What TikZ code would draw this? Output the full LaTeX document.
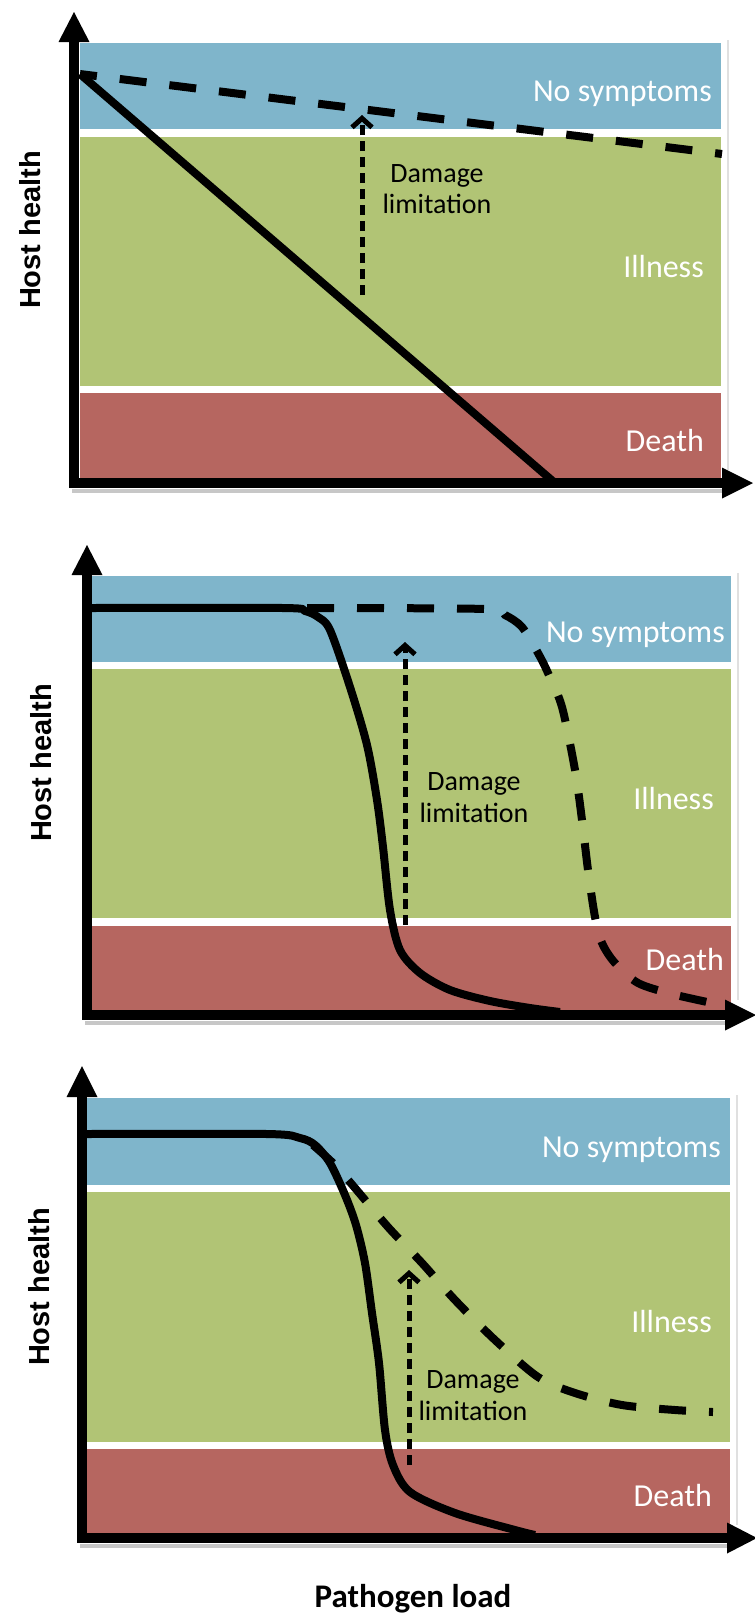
\documentclass[tikz,border=0pt]{standalone}
\usepackage{fontspec}
\setmainfont{Carlito}
\newfontfamily\hfont{Liberation Sans}
\usetikzlibrary{arrows.meta}
\definecolor{bandblue}{RGB}{127,181,203}
\definecolor{bandgreen}{RGB}{177,196,117}
\definecolor{bandred}{RGB}{182,102,96}
\begin{document}
\begin{tikzpicture}[x=1pt,y=-1pt,
  axisline/.style={line width=10pt, line join=miter},
  axishead/.style={fill=black},
  axisshadow/.style={black!22, line width=4pt},
  edgeshadow/.style={black!12, line width=2.5pt},
  solidcurve/.style={line width=8pt, line join=round},
  dashcurve/.style={line width=8pt, dash pattern=on 27pt off 23pt},
  dmgarrow/.style={line width=5pt, dash pattern=on 10pt off 6pt, -{Straight Barb[length=9pt,width=20pt]}},
  zonelab/.style={text=white, font=\fontsize{32}{38}\selectfont, inner sep=0pt, anchor=base east},
  dmglab/.style={font=\fontsize{28}{32}\selectfont, inner sep=0pt, anchor=base},
  ylab/.style={font=\hfont\bfseries\fontsize{29}{34}\selectfont, inner sep=0pt, rotate=90, anchor=base},
  xlab/.style={font=\bfseries\fontsize{33}{38}\selectfont, inner sep=0pt, anchor=base}
]
\useasboundingbox (0,0) rectangle (755,1615);

% ================= Panel 1 =================
\draw[edgeshadow] (728,40) -- (728,470);
\fill[bandblue]  (80,43)  rectangle (721,129);
\fill[bandgreen] (80,137) rectangle (721,386);
\fill[bandred]   (80,393) rectangle (721,483);
\node[zonelab] (ns1) at (712,101) {No symptoms};
\node[zonelab] (il1) at (704,277) {Illness};
\node[zonelab] (de1) at (704,451) {Death};
\coordinate (s1a) at (80,74);
\coordinate (s1b) at (555,483);
\coordinate (d1b) at (722,154);
\draw[solidcurve] (s1a) -- (s1b);
\draw[dashcurve, dash phase=10pt] (s1a) -- (d1b);
\coordinate (a1s) at (362,295);
\coordinate (a1e) at (362,115);
\draw[dmgarrow] (a1s) -- (a1e);
\node[dmglab] (dm1) at (437,182) {Damage};
\node[dmglab] (li1) at (437,213) {limitation};
\coordinate (o1) at (74,483);
\draw[axisshadow] (72,491) -- (722,491);
\draw[axisline] (74,41) -- (o1) -- (723,483);
\fill[axishead] (74,12) -- (58.5,42) -- (89.5,42) -- cycle;
\fill[axishead] (753,483) -- (722,467.5) -- (722,498.5) -- cycle;
\node[ylab] (hh1) at (40,230) {Host health};

% ================= Panel 2 =================
\draw[edgeshadow] (738,573) -- (738,1000);
\fill[bandblue]  (92,576) rectangle (731,662);
\fill[bandgreen] (92,669) rectangle (731,918);
\fill[bandred]   (92,926) rectangle (731,1015);
\node[zonelab] (ns2) at (725,642) {No symptoms};
\node[zonelab] (il2) at (714,809) {Illness};
\node[zonelab] (de2) at (724,970) {Death};
\draw[solidcurve] plot[smooth, tension=0.5] coordinates {
  (92,608) (283,608) (305,611) (318,617) (330,630) (350,687) (367,745)
  (377,800) (383,847) (390,910) (400,950) (420,973) (450,990) (490,1001)
  (530,1008) (560,1012)};
\draw[dashcurve] plot[smooth, tension=0.5] coordinates {
  (307,608) (486,609) (505,615) (522,627) (538,653) (548,673) (562,707)
  (575,770) (582,820) (588,870) (595,917) (602,943) (615,963) (638,983)
  (672,994) (712,1003)};
\coordinate (a2s) at (405,925);
\coordinate (a2e) at (405,642);
\draw[dmgarrow] (a2s) -- (a2e);
\node[dmglab] (dm2) at (474,790) {Damage};
\node[dmglab] (li2) at (474,822) {limitation};
\coordinate (o2) at (87,1015);
\draw[axisshadow] (85,1023) -- (726,1023);
\draw[axisline] (87,574) -- (o2) -- (726,1015);
\fill[axishead] (87,545) -- (71.5,575) -- (102.5,575) -- cycle;
\fill[axishead] (756,1015) -- (725,999.5) -- (725,1030.5) -- cycle;
\node[ylab] (hh2) at (51,763) {Host health};

% ================= Panel 3 =================
\draw[edgeshadow] (737,1095) -- (737,1525);
\fill[bandblue]  (87,1098) rectangle (730,1185);
\fill[bandgreen] (87,1192) rectangle (730,1442);
\fill[bandred]   (87,1449) rectangle (730,1538);
\node[zonelab] (ns3) at (721,1157) {No symptoms};
\node[zonelab] (il3) at (712,1332) {Illness};
\node[zonelab] (de3) at (712,1506) {Death};
\draw[solidcurve] plot[smooth, tension=0.5] coordinates {
  (87,1134) (267,1134) (300,1138) (315,1145) (330,1163) (345,1195) (356,1225)
  (365,1263) (372,1313) (379,1363) (385,1430) (393,1465) (410,1492)
  (455,1513) (515,1530) (535,1535)};
\draw[dashcurve] plot[smooth, tension=0.5] coordinates {
  (313,1145) (335,1165) (355,1188) (388,1227) (422,1263) (455,1300)
  (495,1340) (538,1377) (575,1393) (622,1405) (675,1410) (713,1412)};
\coordinate (a3s) at (409,1465);
\coordinate (a3e) at (409,1270);
\draw[dmgarrow] (a3s) -- (a3e);
\node[dmglab] (dm3) at (473,1388) {Damage};
\node[dmglab] (li3) at (473,1420) {limitation};
\coordinate (o3) at (82,1538);
\draw[axisshadow] (80,1546) -- (728,1546);
\draw[axisline] (82,1096) -- (o3) -- (728,1538);
\fill[axishead] (82,1066) -- (66.5,1097) -- (97.5,1097) -- cycle;
\fill[axishead] (757,1538) -- (727,1522.5) -- (727,1553.5) -- cycle;
\node[ylab] (hh3) at (49,1287) {Host health};

\node[xlab] (pl) at (413,1607) {Pathogen load};
\end{tikzpicture}
\end{document}
